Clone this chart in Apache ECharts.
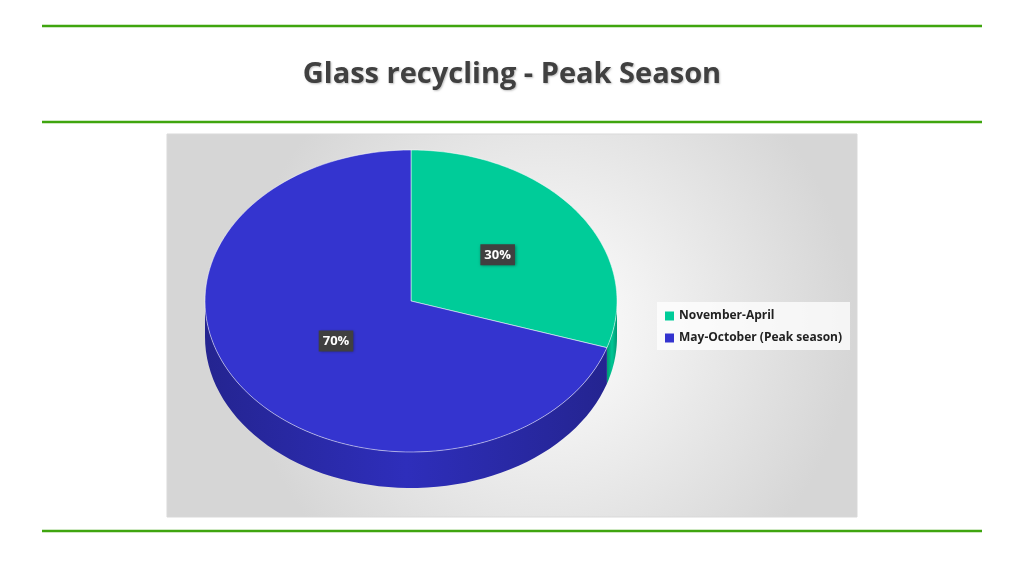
<!DOCTYPE html>
<html><head><meta charset="utf-8">
<script src="https://cdn.jsdelivr.net/npm/echarts@6/dist/echarts.min.js"></script>
<style>html,body{margin:0;padding:0;background:#fff}#c{width:1024px;height:576px}</style>
</head><body><div id="c"></div>
<script>
const categories = ['November-April', 'May-October (Peak season)'];
const values = [30, 70];
const labels = ['30%', '70%'];
const topColors = ['#00CC99', '#3434CF'];
const sideColors = ['#009973', '#242490'];

const CX = 411, CY = 301, RX = 206, RY = 151, DEPTH = 36;
const total = values.reduce((a, b) => a + b, 0);
function pt(a, k, dy) { return [CX + RX * k * Math.sin(a), CY - RY * k * Math.cos(a) + (dy || 0)]; }

function makeRender(i) {
  return function () {
    let s = 0; for (let j = 0; j < i; j++) s += values[j];
    const a0 = s / total * 2 * Math.PI, a1 = (s + values[i]) / total * 2 * Math.PI;
    const children = [];
    const f0 = Math.max(a0, Math.PI / 2), f1 = Math.min(a1, 3 * Math.PI / 2);
    if (f1 > f0) {
      const top = [], bot = [];
      for (let t = 0; t <= 60; t++) {
        const a = f0 + (f1 - f0) * t / 60;
        top.push(pt(a, 1)); bot.push(pt(a, 1, DEPTH));
      }
      children.push({ type: 'polygon', shape: { points: top.concat(bot.reverse()) },
        style: { fill: new echarts.graphic.LinearGradient(0, 0, 1, 0, [
          { offset: 0, color: sideColors[i] }, { offset: 0.5, color: echarts.color.lift(sideColors[i], -0.3) }, { offset: 1, color: sideColors[i] }]) } });
    }
    const pts = [[CX, CY]];
    for (let t = 0; t <= 120; t++) pts.push(pt(a0 + (a1 - a0) * t / 120, 1));
    children.push({ type: 'polygon', shape: { points: pts }, style: { fill: topColors[i], stroke: '#ffffff', lineWidth: 0.5 } });
    const lp = pt((a0 + a1) / 2, i === 0 ? 0.52 : 0.45);
    children.push({ type: 'text', x: lp[0], y: lp[1], z2: 10, style: {
      text: labels[i], fill: '#fff', font: 'bold 13px "Open Sans", sans-serif', align: 'center', verticalAlign: 'middle',
      backgroundColor: '#404040', padding: [4, 4], shadowColor: 'rgba(0,0,0,0.4)', shadowBlur: 3, shadowOffsetX: 1, shadowOffsetY: 1 } });
    return { type: 'group', children };
  };
}

const chart = echarts.init(document.getElementById('c'));
const line = (y) => ({ type: 'line', shape: { x1: 42, y1: y, x2: 982, y2: y }, style: { stroke: '#3FA50F', lineWidth: 2.5 }, z: 0 });
chart.setOption({
  animation: false,
  graphic: [
    line(26), line(122), line(531),
    { type: 'text', x: 512, y: 75, style: { text: 'Glass recycling - Peak Season', font: 'bold 29px "Open Sans", sans-serif', fill: '#404040', align: 'center', verticalAlign: 'middle', textShadowColor: 'rgba(0,0,0,0.25)', textShadowBlur: 2, textShadowOffsetX: 1, textShadowOffsetY: 1 }, z: 0 },
    { type: 'rect', shape: { x: 167, y: 134, width: 690, height: 383 }, z: -10,
      style: { fill: new echarts.graphic.RadialGradient(0.55, 0.5, 0.8, [{ offset: 0, color: '#ffffff' }, { offset: 1, color: '#d6d6d6' }]), stroke: '#d9d9d9' } },
    { type: 'rect', shape: { x: 657, y: 302, width: 193, height: 48 }, z: -5, style: { fill: 'rgba(255,255,255,0.75)' } }
  ],
  legend: {
    data: categories, orient: 'vertical', left: 660, top: 305, itemWidth: 9, itemHeight: 9, itemGap: 10, icon: 'rect',
    textStyle: { fontFamily: '"Open Sans", sans-serif', fontWeight: 'bold', fontSize: 12, color: '#222' }
  },
  series: categories.map((c, i) => ({
    type: 'custom', name: c, coordinateSystem: 'none', data: [values[i]], renderItem: makeRender(i),
    itemStyle: { color: topColors[i] }
  }))
});
</script></body></html>
